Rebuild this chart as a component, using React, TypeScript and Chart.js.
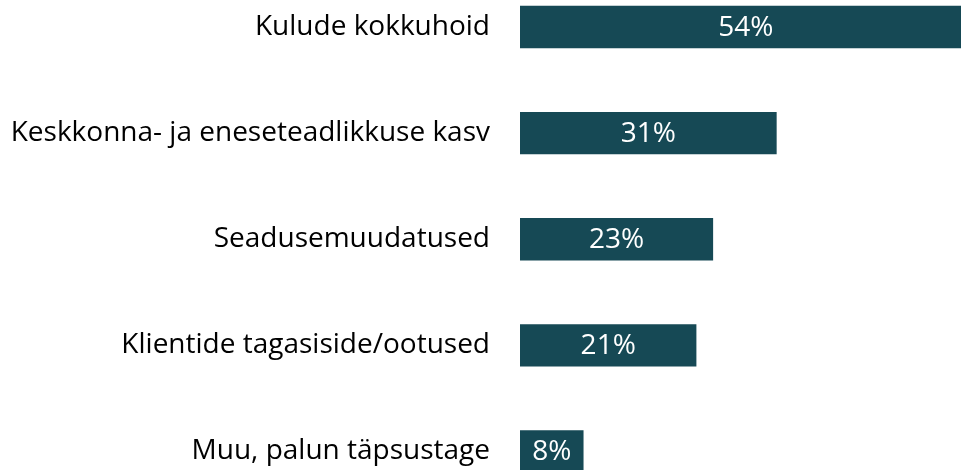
import React, { useEffect, useRef } from "react";
import { Chart, registerables } from "chart.js";

Chart.register(...registerables);

const categories = [
  "Kulude kokkuhoid",
  "Keskkonna- ja eneseteadlikkuse kasv",
  "Seadusemuudatused",
  "Klientide tagasiside/ootused",
  "Muu, palun täpsustage",
];
const values = [54, 30.7, 23.1, 21.1, 7.6];
const barColor = "#164955";
const fontFamily = "'Open Sans', sans-serif";

const valueLabels = {
  id: "valueLabels",
  afterDatasetsDraw(chart: any) {
    const ctx = chart.ctx;
    const meta = chart.getDatasetMeta(0);
    ctx.save();
    ctx.fillStyle = "#ffffff";
    ctx.font = `28px ${fontFamily}`;
    ctx.textAlign = "center";
    ctx.textBaseline = "middle";
    meta.data.forEach((bar: any, i: number) => {
      const v = chart.data.datasets[0].data[i] as number;
      const cx = (bar.base + bar.x) / 2;
      ctx.fillText(`${Math.round(v)}%`, cx, bar.y + 1);
    });
    ctx.restore();
  },
};

export default function App() {
  const ref = useRef<HTMLCanvasElement>(null);
  useEffect(() => {
    if (!ref.current) return;
    const chart = new Chart(ref.current, {
      type: "bar",
      data: {
        labels: categories,
        datasets: [
          {
            data: values,
            backgroundColor: barColor,
            categoryPercentage: 1,
            barPercentage: 0.4,
            clip: false as any,
          },
        ],
      },
      options: {
        indexAxis: "y",
        animation: false,
        responsive: false,
        maintainAspectRatio: false,
        layout: { padding: { top: 27, bottom: 18.5, left: 0, right: 0 } },
        plugins: { legend: { display: false }, tooltip: { enabled: false } },
        scales: {
          x: { display: false, min: 0, max: 52.75 },
          y: {
            offset: false,
            grid: { display: false, drawTicks: false },
            border: { display: false },
            ticks: {
              autoSkip: false,
              padding: 30,
              color: "#000000",
              font: { family: fontFamily, size: 28 },
            },
            afterFit(scale: any) {
              scale.width = 520;
              scale.paddingTop = 0;
              scale.paddingBottom = 0;
            },
          },
        },
      },
      plugins: [valueLabels],
    });
    return () => chart.destroy();
  }, []);
  return (
    <div style={{ position: "fixed", left: 0, top: 0, width: 961, height: 470, background: "#fff" }}>
      <canvas ref={ref} width={961} height={470} style={{ display: "block" }} />
    </div>
  );
}
